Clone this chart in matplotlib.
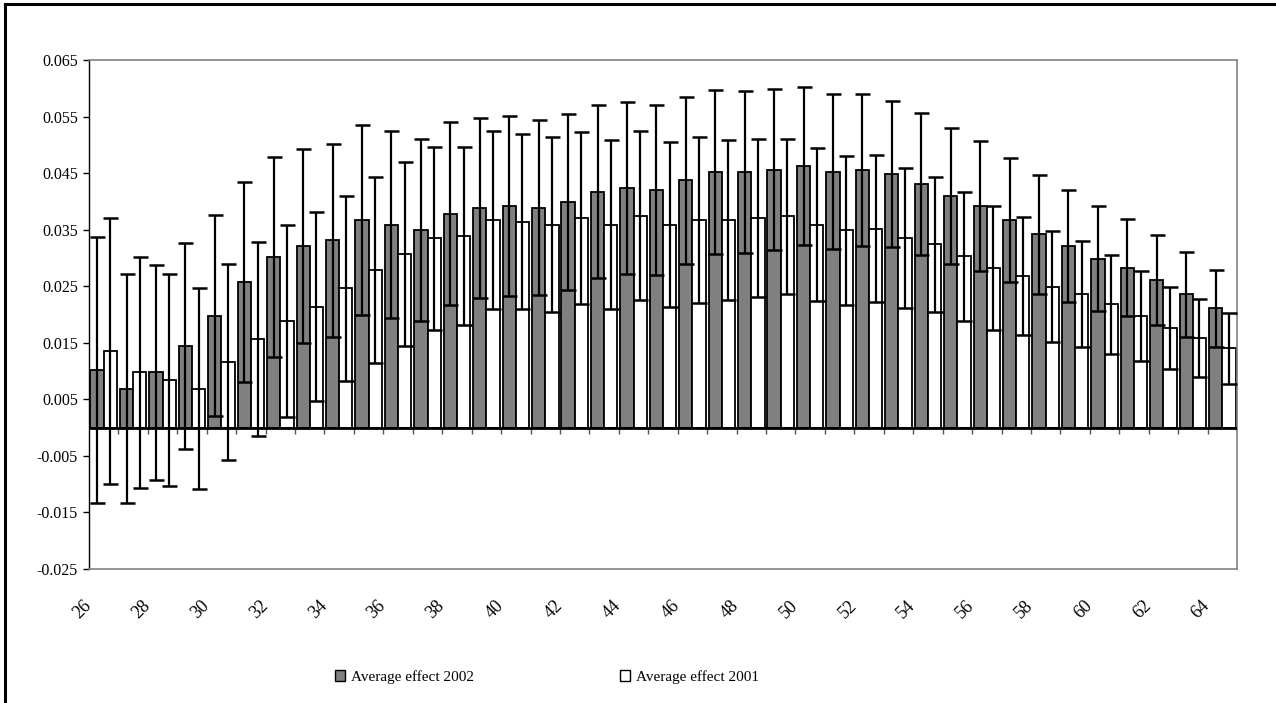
import matplotlib; matplotlib.use("Agg")
import matplotlib.pyplot as plt
import matplotlib.transforms as mtransforms
from matplotlib.lines import Line2D
from matplotlib.patches import Patch
import numpy as np

ages = list(range(26, 65))
effect_2002 = [0.0102, 0.0069, 0.0098, 0.0144, 0.0198, 0.0257, 0.0302, 0.0321, 0.0331, 0.0367,
               0.0359, 0.0349, 0.0378, 0.0389, 0.0392, 0.0389, 0.0399, 0.0417, 0.0424, 0.0420,
               0.0437, 0.0452, 0.0452, 0.0456, 0.0463, 0.0452, 0.0456, 0.0449, 0.0431, 0.0410,
               0.0392, 0.0367, 0.0342, 0.0321, 0.0299, 0.0283, 0.0261, 0.0236, 0.0211]
err_2002 = [0.0235, 0.0202, 0.0190, 0.0182, 0.0178, 0.0177, 0.0177, 0.0171, 0.0171, 0.0168,
            0.0165, 0.0161, 0.0162, 0.0159, 0.0159, 0.0155, 0.0155, 0.0153, 0.0152, 0.0150,
            0.0147, 0.0145, 0.0144, 0.0142, 0.0140, 0.0137, 0.0134, 0.0129, 0.0125, 0.0120,
            0.0115, 0.0110, 0.0105, 0.0099, 0.0093, 0.0086, 0.0080, 0.0075, 0.0068]
effect_2001 = [0.0136, 0.0098, 0.0084, 0.0069, 0.0116, 0.0157, 0.0189, 0.0214, 0.0246, 0.0279,
               0.0307, 0.0335, 0.0339, 0.0367, 0.0364, 0.0359, 0.0371, 0.0359, 0.0375, 0.0359,
               0.0367, 0.0367, 0.0371, 0.0374, 0.0359, 0.0349, 0.0352, 0.0335, 0.0324, 0.0303,
               0.0282, 0.0268, 0.0249, 0.0236, 0.0218, 0.0197, 0.0176, 0.0158, 0.0140]
err_2001 = [0.0235, 0.0204, 0.0188, 0.0178, 0.0174, 0.0172, 0.0170, 0.0167, 0.0164, 0.0164,
            0.0163, 0.0162, 0.0158, 0.0158, 0.0155, 0.0155, 0.0152, 0.0149, 0.0149, 0.0146,
            0.0147, 0.0141, 0.0140, 0.0137, 0.0135, 0.0132, 0.0130, 0.0124, 0.0120, 0.0114,
            0.0110, 0.0105, 0.0098, 0.0094, 0.0088, 0.0080, 0.0073, 0.0069, 0.0063]
y_ticks = [-0.025, -0.015, -0.005, 0.005, 0.015, 0.025, 0.035, 0.045, 0.055, 0.065]
labels = ["Average effect 2002", "Average effect 2001"]

plt.rcParams['font.family'] = ['Liberation Serif', 'DejaVu Serif']

fig = plt.figure(figsize=(12.76, 7.03), dpi=100)
ax = fig.add_axes([89/1276, 1-569/703, (1237-89)/1276, (569-60)/703])

x = np.arange(len(ages))
w = 0.45
ax.bar(x - w/2, effect_2002, w, color="#808080", edgecolor="black", lw=1.3, zorder=2)
ax.bar(x + w/2, effect_2001, w, color="white", edgecolor="black", lw=1.3, zorder=2)
ax.errorbar(x - w/2, effect_2002, yerr=err_2002, fmt="none", ecolor="black",
            elinewidth=1.6, capsize=5.4, capthick=1.8, zorder=3)
ax.errorbar(x + w/2, effect_2001, yerr=err_2001, fmt="none", ecolor="black",
            elinewidth=1.6, capsize=5.4, capthick=1.8, zorder=3)
ax.axhline(0, color="black", lw=2, zorder=4)

ymin, ymax = -0.025, 0.065
ax.set_xlim(-0.5, len(ages) - 0.5)
ax.set_ylim(ymin, ymax)
ax.set_yticks(y_ticks)
ax.set_yticklabels([f"{v:.3f}" for v in y_ticks], fontsize=11.5)
ax.tick_params(axis="y", direction="out", length=4, width=1, pad=4)

ax.set_xticks(x[::2])
ax.set_xticklabels([str(a) for a in ages[::2]], rotation=45, ha="right", va="top", fontsize=13)
ax.tick_params(axis="x", length=0, pad=20)
off = mtransforms.ScaledTranslation(-0.09, 0, fig.dpi_scale_trans)
for t in ax.get_xticklabels():
    t.set_transform(t.get_transform() + off)

# category tick marks on the zero line
sec = ax.secondary_xaxis((0 - ymin) / (ymax - ymin))
sec.set_xticks(x[:-1] + 0.5)
sec.set_xticklabels([])
sec.tick_params(axis="x", direction="out", length=4, width=1, color="#555555")
sec.spines["bottom"].set_visible(False)
sec.spines["top"].set_visible(False)

for s in ["top", "right", "bottom"]:
    ax.spines[s].set_color("#808080")
    ax.spines[s].set_linewidth(1.2)
ax.spines["left"].set_color("black")
ax.spines["left"].set_linewidth(1)

handles = [Patch(facecolor="#808080", edgecolor="black", lw=1),
           Patch(facecolor="white", edgecolor="black", lw=1)]
fig.legend(handles, labels, loc="center", bbox_to_anchor=(547/1276, 1-677/703), ncol=2,
           frameon=False, fontsize=11, handlelength=0.65, handleheight=0.65,
           handletextpad=0.4, columnspacing=9.6)

# outer chart frame
fig.add_artist(Line2D([5/1276, 5/1276], [0, 1-4/703], transform=fig.transFigure, color="black", lw=2.2))
fig.add_artist(Line2D([5/1276, 1], [1-4/703, 1-4/703], transform=fig.transFigure, color="black", lw=2.2))

fig.savefig("out.png", dpi=100)
